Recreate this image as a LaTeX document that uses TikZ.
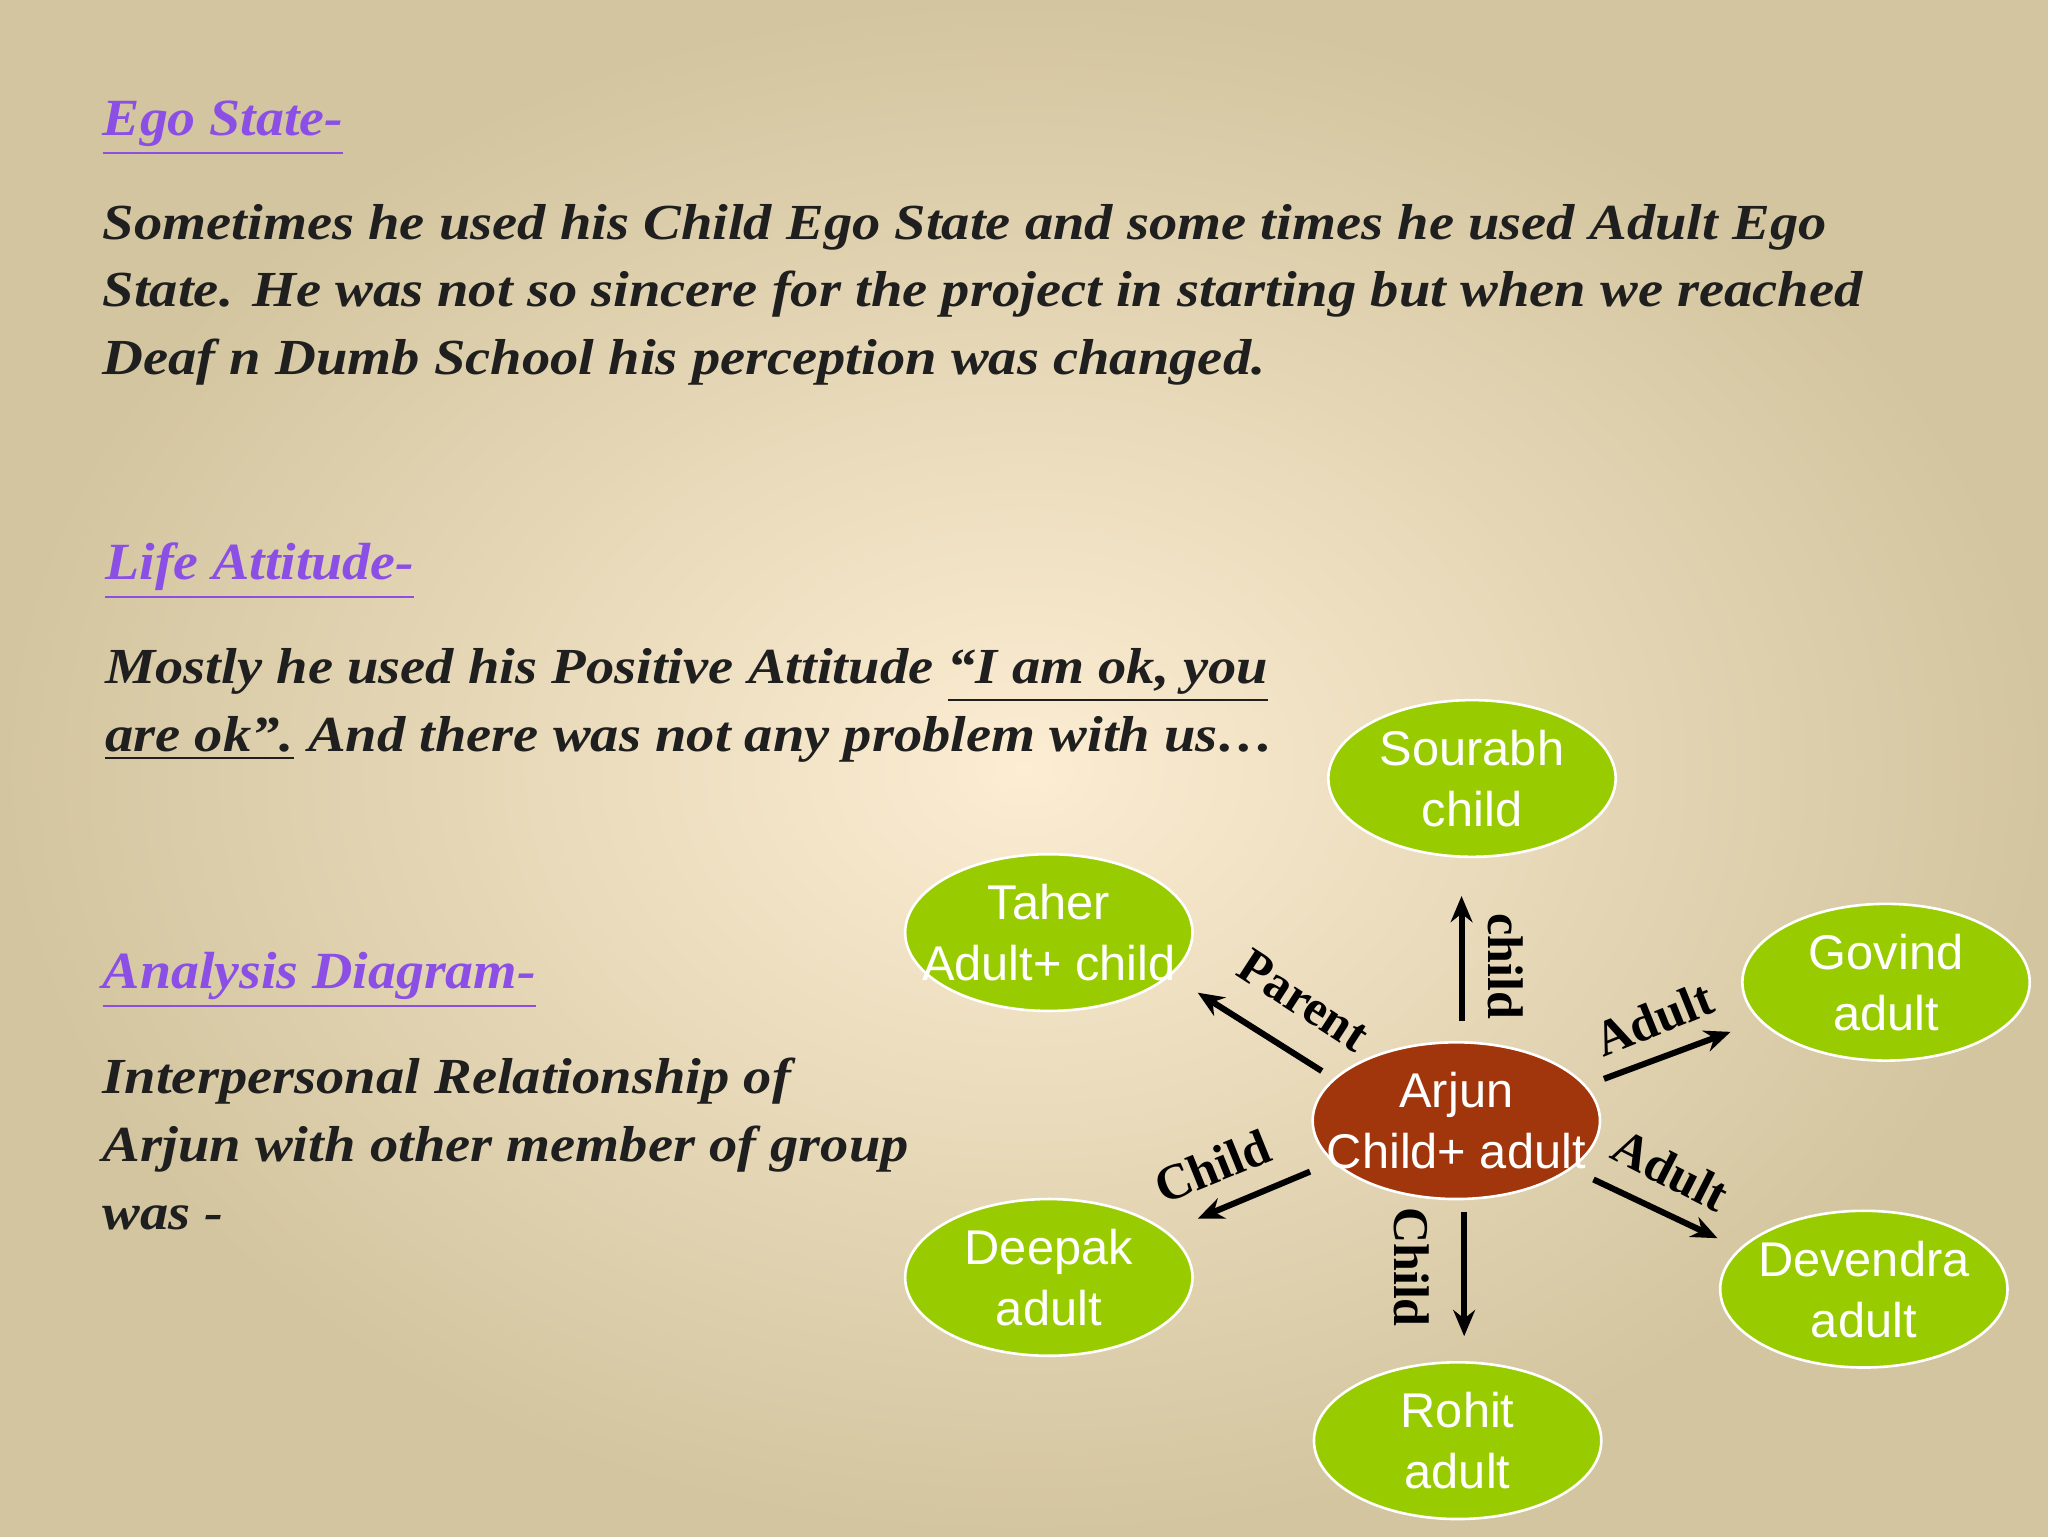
\documentclass[tikz,border=0pt]{standalone}
\usepackage{fontspec}
\setmainfont{Liberation Serif}
\newfontfamily\bodyfont[FakeStretch=1.12]{Liberation Serif}
\newfontfamily\headfont[FakeStretch=1.07]{Liberation Serif}
\newfontfamily\ellfont{Liberation Sans}
\definecolor{bgin}{HTML}{FCEDD3}
\definecolor{bgout}{HTML}{D3C59F}
\definecolor{headc}{HTML}{8B4FE6}
\definecolor{leaf}{HTML}{99CC00}
\definecolor{core}{HTML}{A1350B}
\begin{document}
\begin{tikzpicture}[x=0.3pt,y=-0.3pt,
  head/.style={anchor=base west,inner sep=0,text=headc,font=\fontsize{12}{15}\selectfont\headfont\bfseries\itshape},
  body/.style={anchor=base west,inner sep=0,text=black!88,font=\fontsize{11.6}{15.6}\selectfont\bodyfont\bfseries\itshape},
  ell/.style={ellipse,draw=white,line width=0.6pt,fill=leaf,minimum width=66pt,minimum height=36pt,inner xsep=-9pt,inner ysep=0,text=white,align=center,font=\fontsize{11.2}{14}\selectfont\ellfont},
  arr/.style={-{Stealth[length=6pt,width=5pt]},line width=1.4pt},
  lab/.style={inner sep=0,font=\fontsize{11.5}{13}\selectfont\bfseries}]
\usetikzlibrary{shapes.geometric,arrows.meta}
\shade[inner color=bgin,outer color=bgout] (0,0) rectangle (1568,1176);
\useasboundingbox (0,0) rectangle (1568,1176);
\node[head] (h1) at (78,104) {\underline{Ego State-}};
\node[body] (b1) at (78,183) {Sometimes he used his Child Ego State and some times he used Adult Ego};
\node[body] (b2) at (78,235) {State. He was not so sincere for the project in starting but when we reached};
\node[body] (b3) at (78,287) {Deaf n Dumb School his perception was changed.};
\node[head] (h2) at (80,444) {\underline{Life Attitude-}};
\node[body] (b4) at (80,523) {Mostly he used his Positive Attitude \underline{“I am ok, you}};
\node[body] (b5) at (80,575) {\underline{are ok”.} And there was not any problem with us…};
\node[head] (h3) at (78,757) {\underline{Analysis Diagram-}};
\node[body] (b6) at (78,837) {Interpersonal Relationship of};
\node[body] (b7) at (78,889) {Arjun with other member of group};
\node[body] (b8) at (78,941) {was -};
\node[ell] (sou) at (1127,596) {Sourabh\\child};
\node[ell] (tah) at (803,714) {Taher\\Adult+ child};
\node[ell] (gov) at (1444,752) {Govind\\adult};
\node[ell,fill=core] (arj) at (1115,858) {Arjun\\Child+ adult};
\node[ell] (dee) at (803,978) {Deepak\\adult};
\node[ell] (dev) at (1427,987) {Devendra\\adult};
\node[ell] (roh) at (1116,1103) {Rohit\\adult};
\coordinate (a1s) at (1119,782); \coordinate (a1e) at (1119,686);
\coordinate (a2s) at (1012,820); \coordinate (a2e) at (917,760);
\coordinate (a3s) at (1228,826); \coordinate (a3e) at (1325,790);
\coordinate (a4s) at (1220,903); \coordinate (a4e) at (1315,948);
\coordinate (a5s) at (1003,897); \coordinate (a5e) at (917,933);
\coordinate (a6s) at (1121,928); \coordinate (a6e) at (1121,1023);
\draw[arr] (a1s) -- (a1e);
\draw[arr] (a2s) -- (a2e);
\draw[arr] (a3s) -- (a3e);
\draw[arr] (a4s) -- (a4e);
\draw[arr] (a5s) -- (a5e);
\draw[arr] (a6s) -- (a6e);
\node[lab,rotate=-90] (l1) at (1153,740) {child};
\node[lab,rotate=-33] (l2) at (998,766) {Parent};
\node[lab,rotate=22] (l3) at (1266,780) {Adult};
\node[lab,rotate=-27] (l4) at (1279,896) {Adult};
\node[lab,rotate=22] (l5) at (928,893) {Child};
\node[lab,rotate=-90] (l6) at (1081,970) {Child};
\end{tikzpicture}
\end{document}
